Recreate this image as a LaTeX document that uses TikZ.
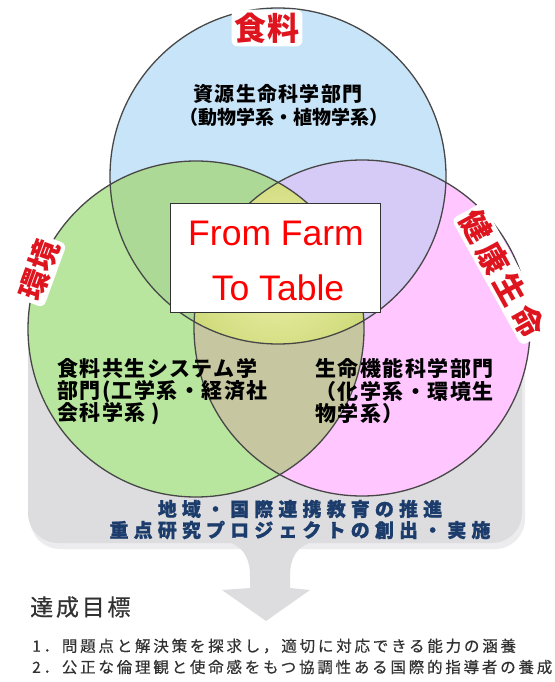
\documentclass[tikz,border=0pt]{standalone}
\usepackage{fontspec}
\setmainfont{Liberation Sans}
\newfontfamily\jp{Noto Sans CJK JP}
\definecolor{cblue}{RGB}{200,228,248}
\definecolor{cgreen}{RGB}{184,230,158}
\definecolor{cpink}{RGB}{255,198,255}
\definecolor{cbg}{RGB}{172,218,150}
\definecolor{cbp}{RGB}{214,202,246}
\definecolor{cgp}{RGB}{198,198,160}
\definecolor{cyin}{RGB}{242,242,176}
\definecolor{cyout}{RGB}{200,214,112}
\definecolor{cgray}{RGB}{221,221,223}
\definecolor{cshadow}{RGB}{236,236,238}
\definecolor{clabel}{RGB}{222,20,30}
\definecolor{cnavy}{RGB}{28,60,108}
\definecolor{ctext}{RGB}{50,50,50}
\tikzset{
  circline/.style={draw=black!72, line width=1.3pt},
  toplabel/.style={fill=white, rounded corners=6pt, inner sep=3pt, text=clabel,
    font={\jp\bfseries\fontsize{32}{34}\selectfont}},
  dept/.style={anchor=west, inner sep=0pt, text=black},
  navy/.style={anchor=center, inner sep=0pt, text=cnavy,
    font={\jp\bfseries\fontsize{19}{21}\selectfont\addfontfeature{LetterSpace=27,FakeBold=1}}},
  farm/.style={anchor=base, inner sep=0pt, text=red, font={\fontsize{35.5}{40}\selectfont}},
  goal/.style={anchor=west, inner sep=0pt, text=ctext},
}
\begin{document}
\begin{tikzpicture}[x=1pt,y=-1pt]
\useasboundingbox (0,0) rectangle (554,682);
\fill[white] (0,0) rectangle (554,682);
% background gray panel with arrow
\fill[cshadow, rounded corners=30pt] (30,296) rectangle (525,549);
\fill[cgray, rounded corners=30pt] (28,290) rectangle (522,543);
\fill[cgray] (222,540) .. controls (245,545) and (250,560) .. (250,576)
  -- (250,588) -- (222,590) -- (266,621) -- (310,590) -- (290,588) -- (290,576)
  .. controls (290,560) and (295,545) .. (318,540) -- cycle;
% circles
\coordinate (B) at (278,176);
\coordinate (G) at (196,329);
\coordinate (P) at (362,328);
\fill[cblue] (B) circle[radius=168pt];
\fill[cgreen] (G) circle[radius=168pt];
\fill[cpink] (P) circle[radius=168pt];
\begin{scope}
  \clip (B) circle[radius=168pt];
  \fill[cbg] (G) circle[radius=168pt];
  \fill[cbp] (P) circle[radius=168pt];
\end{scope}
\begin{scope}
  \clip (G) circle[radius=168pt];
  \fill[cgp] (P) circle[radius=168pt];
\end{scope}
\begin{scope}
  \clip (B) circle[radius=168pt];
  \clip (G) circle[radius=168pt];
  \clip (P) circle[radius=168pt];
  \fill[cyout] (150,150) rectangle (400,370);
  \shade[inner color=cyin, outer color=cyout] (278,268) circle[radius=115pt];
\end{scope}
\draw[circline] (B) circle[radius=168pt];
\draw[circline] (G) circle[radius=168pt];
\draw[circline] (P) circle[radius=168pt];
% region labels
\node[toplabel, font={\jp\bfseries\fontsize{32}{34}\selectfont\addfontfeature{LetterSpace=3}}] (food) at (267,28) {食料};
\node[toplabel, rotate=70, font={\jp\bfseries\fontsize{30}{32}\selectfont\addfontfeature{LetterSpace=6}}] (env) at (39,270) {環境};
\node[toplabel, rotate=-61, font={\jp\bfseries\fontsize{31}{33}\selectfont\addfontfeature{LetterSpace=16}}] (health) at (502,274) {健康生命};
% centre box
\node[draw=black!80, fill=white, line width=1pt, minimum width=210pt, minimum height=109pt] (box) at (275,257.5) {};
\node[farm] (farm1) at (276,245) {From Farm};
\node[farm] (farm2) at (278,300) {To Table};
% department texts
\node[anchor=center, inner sep=0pt, font={\jp\bfseries\fontsize{20}{22}\selectfont\addfontfeature{LetterSpace=6}}] (res1) at (278,94) {資源生命科学部門};
\node[anchor=center, inner sep=0pt, font={\jp\bfseries\fontsize{19}{22}\selectfont}] (res2) at (284,117) {（動物学系・植物学系）};
\tikzset{deptfont/.style={font={\jp\bfseries\fontsize{21}{23}\selectfont\addfontfeature{LetterSpace=7}}}}
\node[dept, deptfont] (fs1) at (57,368) {食料共生システム学};
\node[dept, deptfont] (fs2) at (57,392) {部門(工学系・経済社};
\node[dept, deptfont] (fs3) at (57,414) {会科学系 )};
\node[dept, deptfont] (lf1) at (315,368) {生命機能科学部門};
\node[dept, deptfont] (lf2) at (315,392) {（化学系・環境生};
\node[dept, deptfont] (lf3) at (315,414) {物学系）};
% navy texts
\node[navy] (nv1) at (300,509) {地域・国際連携教育の推進};
\node[navy] (nv2) at (300,530) {重点研究プロジェクトの創出・実施};
% goals
\node[goal, font={\jp\fontsize{23}{25}\selectfont\addfontfeature{LetterSpace=12,FakeBold=0.6}}] (goal) at (30,607) {達成目標};
\tikzset{listfont/.style={font={\jp\fontsize{15.5}{17}\selectfont\addfontfeature{LetterSpace=18,FakeBold=0.4}}}}
\node[goal, listfont] (g1) at (32,646) {1．問題点と解決策を探求し，適切に対応できる能力の涵養};
\node[goal, listfont] (g2) at (32,667) {2．公正な倫理観と使命感をもつ協調性ある国際的指導者の養成};
\end{tikzpicture}
\end{document}
